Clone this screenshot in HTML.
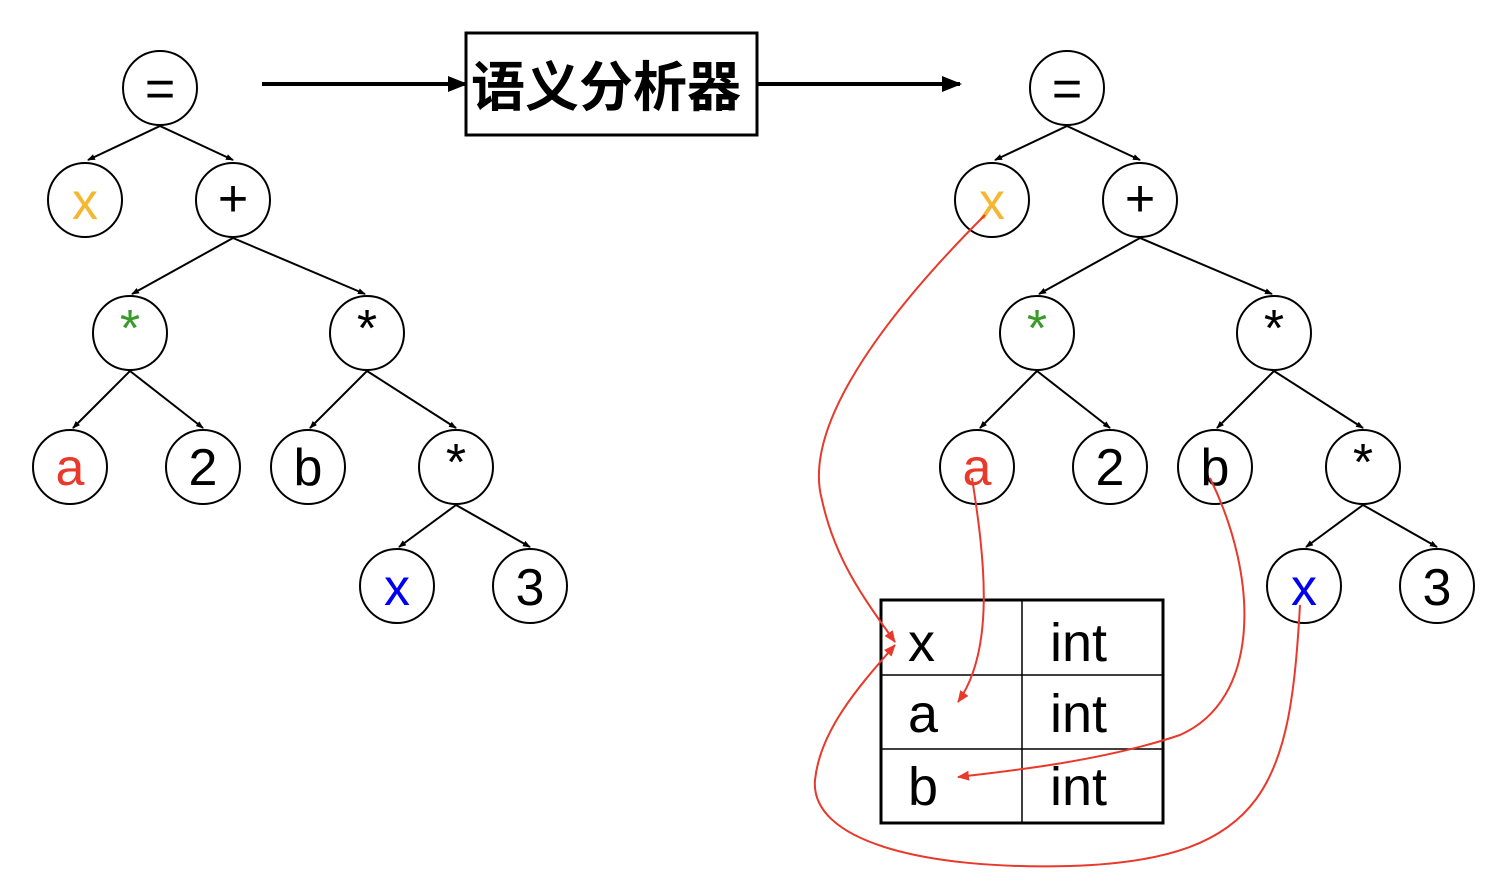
<!DOCTYPE html>
<html><head><meta charset="utf-8"><style>
html,body{margin:0;padding:0;background:#fff;}
svg{display:block}
text{font-family:"Liberation Sans","Noto Sans CJK SC",sans-serif;}
</style></head><body>
<svg width="1508" height="896" viewBox="0 0 1508 896" xmlns="http://www.w3.org/2000/svg">
<defs>
<marker id="ah" markerWidth="8" markerHeight="8" refX="7" refY="4" orient="auto" markerUnits="userSpaceOnUse"><path d="M0,1 L8,4 L0,7z" fill="#000"/></marker>
<marker id="big" markerWidth="20" markerHeight="16" refX="18" refY="8" orient="auto" markerUnits="userSpaceOnUse"><path d="M0,0 L20,8 L0,16z" fill="#000"/></marker>
<marker id="rh" markerWidth="12" markerHeight="10" refX="11" refY="5" orient="auto" markerUnits="userSpaceOnUse"><path d="M0,0 L12,5 L0,10z" fill="#e8392b"/></marker>
</defs>
<g id="tl">
<g stroke="#000" stroke-width="2" marker-end="url(#ah)">
<line x1="160" y1="126" x2="88" y2="160"/>
<line x1="160" y1="126" x2="233" y2="160"/>
<line x1="233" y1="238" x2="132" y2="294"/>
<line x1="233" y1="238" x2="365" y2="294"/>
<line x1="130" y1="371" x2="73" y2="428"/>
<line x1="130" y1="371" x2="203" y2="428"/>
<line x1="367" y1="371" x2="310" y2="428"/>
<line x1="367" y1="371" x2="456" y2="428"/>
<line x1="456" y1="505" x2="399" y2="547"/>
<line x1="456" y1="505" x2="530" y2="547"/>
</g>
<g fill="#fff" stroke="#000" stroke-width="2">
<circle cx="160" cy="88" r="37"/><circle cx="85" cy="200" r="37"/><circle cx="233" cy="200" r="37"/>
<circle cx="130" cy="333" r="37"/><circle cx="367" cy="333" r="37"/>
<circle cx="70" cy="467" r="37"/><circle cx="203" cy="467" r="37"/><circle cx="308" cy="467" r="37"/><circle cx="456" cy="467" r="37"/>
<circle cx="397" cy="586" r="37"/><circle cx="530" cy="586" r="37"/>
</g>
<g font-size="52" text-anchor="middle">
<text x="160" y="106">=</text>
<text x="85" y="219" fill="#f5b731">x</text>
<text x="233" y="216">+</text>
<text x="130" y="346" fill="#3a9a2a">*</text>
<text x="367" y="346">*</text>
<text x="70" y="485" fill="#e8392b">a</text>
<text x="203" y="485">2</text>
<text x="308" y="485">b</text>
<text x="456" y="480">*</text>
<text x="397" y="605" fill="#0000ee">x</text>
<text x="530" y="605">3</text>
</g>
</g>
<use href="#tl" x="907"/>
<line x1="262" y1="84" x2="466" y2="84" stroke="#000" stroke-width="4" marker-end="url(#big)"/>
<line x1="757" y1="84" x2="960" y2="84" stroke="#000" stroke-width="4" marker-end="url(#big)"/>
<rect x="466" y="33" width="291" height="102" fill="#fff" stroke="#000" stroke-width="3"/>
<text x="606" y="106" font-size="54" font-weight="bold" text-anchor="middle">语义分析器</text>
<rect x="881" y="600" width="282" height="223" fill="#fff" stroke="#000" stroke-width="3"/>
<g stroke="#000" stroke-width="1.5">
<line x1="1022" y1="600" x2="1022" y2="823"/>
<line x1="881" y1="675" x2="1163" y2="675"/>
<line x1="881" y1="749" x2="1163" y2="749"/>
</g>
<g font-size="54">
<text x="908" y="661">x</text><text x="1050" y="661">int</text>
<text x="908" y="732">a</text><text x="1050" y="732">int</text>
<text x="908" y="805">b</text><text x="1050" y="805">int</text>
</g>
<g fill="none" stroke="#e8392b" stroke-width="2" marker-end="url(#rh)">
<path d="M985,215 C900,300 800,420 822,500 C835,560 865,600 895,642"/>
<path d="M972,478 C985,560 995,650 958,702"/>
<path d="M1210,478 C1260,580 1260,700 1180,735 C1100,762 1000,772 958,777"/>
<path d="M1300,605 C1290,780 1270,860 1070,866 C920,870 810,840 815,780 C820,730 860,685 895,645"/>
</g>
</svg>
</body></html>
